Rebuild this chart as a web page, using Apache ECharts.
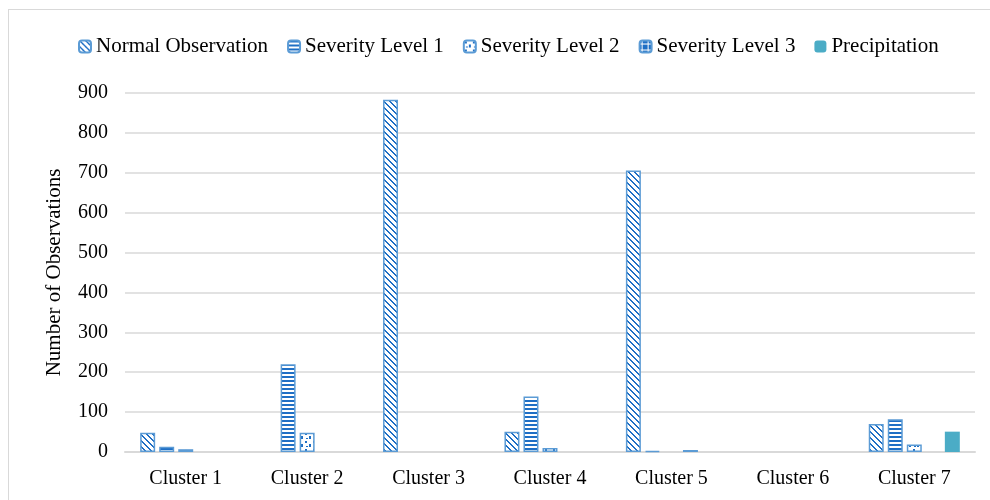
<!DOCTYPE html>
<html><head><meta charset="utf-8">
<script src="https://cdn.jsdelivr.net/npm/echarts@6/dist/echarts.min.js"></script>
<style>
html,body{margin:0;padding:0;background:#fff;}
#wrap{position:relative;width:990px;height:500px;overflow:hidden;}
#frame{position:absolute;left:8px;top:9px;width:1100px;height:1100px;border:1px solid #d9d9d9;box-sizing:border-box;}
#chart{position:absolute;left:0;top:0;width:990px;height:500px;}
</style></head>
<body><div id="wrap"><div id="frame"></div><div id="chart"></div></div>
<script>
const categories = ['Cluster 1','Cluster 2','Cluster 3','Cluster 4','Cluster 5','Cluster 6','Cluster 7'];
const seriesNames = ['Normal Observation','Severity Level 1','Severity Level 2','Severity Level 3','Precipitation'];
const normalObs = [48, 0, 883, 51, 706, 0, 70];
const severity1 = [13, 220, 0, 139, 3, 0, 82];
const severity2 = [7, 48, 0, 10, 0, 0, 19];
const severity3 = [0, 0, 0, 0, 5, 0, 0];
const precipitation = [0, 0, 0, 0, 0, 0, 51];
const yTicks = {min:0, max:900, interval:100};

const BLUE = '#1f6fc5';
function mk(w,h,draw){const c=document.createElement('canvas');c.width=w;c.height=h;const g=c.getContext('2d');g.fillStyle='#fff';g.fillRect(0,0,w,h);g.fillStyle=BLUE;draw(g);return {image:c,repeat:'repeat'};}
const patDiag = mk(6,6,g=>{for(let y=0;y<6;y++){g.fillRect(y,y,2,1);if(y===5)g.fillRect(0,y,1,1);}});
const patHoriz = mk(4,4,g=>{g.fillRect(0,0,4,2);});
const patDots = mk(8,8,g=>{g.fillRect(1,1,2,2);g.fillRect(5,4,2,3);g.fillRect(2,6,2,1);});
const patGrid = mk(6,6,g=>{g.fillRect(0,0,6,6);g.fillStyle='#fff';g.fillRect(2,0,1,6);g.fillRect(0,3,6,1);});
const styles = [patDiag, patHoriz, patDots, patGrid, '#4bacc6'];
const borders = ['#5b9bd5','#5b9bd5','#5b9bd5','#5b9bd5','#4bacc6'];
const dataArr = [normalObs, severity1, severity2, severity3, precipitation];

const chart = echarts.init(document.getElementById('chart'), null, {renderer:'canvas'});
const FONT = '"Liberation Serif","Times New Roman",serif';
chart.setOption({
  animation:false,
  legend:{top:31,left:73,itemWidth:12,itemHeight:12,itemGap:19,
    textStyle:{fontFamily:FONT,fontSize:21,color:'#000'},data:seriesNames},
  grid:{left:125,right:15,top:93,bottom:48},
  xAxis:{type:'category',data:categories,
    axisLine:{lineStyle:{color:'#d9d9d9',width:2}},axisTick:{show:false},
    axisLabel:{fontFamily:FONT,fontSize:20,color:'#000',margin:17}},
  yAxis:{type:'value',min:yTicks.min,max:yTicks.max,interval:yTicks.interval,
    name:'Number of Observations',nameLocation:'middle',nameGap:60,
    nameTextStyle:{fontFamily:FONT,fontSize:21,color:'#000'},
    axisLine:{show:false},axisTick:{show:false},
    splitLine:{lineStyle:{color:'#d9d9d9',width:1.5}},
    axisLabel:{fontFamily:FONT,fontSize:20,color:'#000',margin:17}},
  series: seriesNames.map((n,i)=>({
    name:n,type:'bar',data:dataArr[i].map(v=>v===0?'-':v),barGap:'27%',barCategoryGap:'25%',
    itemStyle:{color:styles[i],borderColor:borders[i],borderWidth:i===4?0:1.5}
  }))
});
</script></body></html>
